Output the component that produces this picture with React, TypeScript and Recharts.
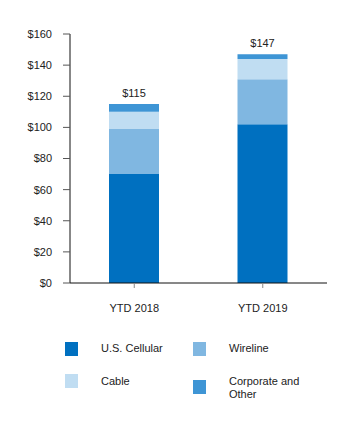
import { BarChart, Bar, XAxis, YAxis, LabelList } from 'recharts';

const categories = ['YTD 2018', 'YTD 2019'];
const usCellular = [70, 102];
const wireline = [29, 29];
const cable = [11, 13];
const corporate = [5, 3];
const totals = [115, 147];
const yTicks = [0, 20, 40, 60, 80, 100, 120, 140, 160];

const seriesInfo = [
  { key: 'cellular', name: 'U.S. Cellular', color: '#0070c0' },
  { key: 'wireline', name: 'Wireline', color: '#80b7e1' },
  { key: 'cable', name: 'Cable', color: '#c0ddf2' },
  { key: 'corporate', name: 'Corporate and Other', color: '#3e95d5' },
];

const data = categories.map((c, i) => ({
  name: c,
  cellular: usCellular[i],
  wireline: wireline[i],
  cable: cable[i],
  corporate: corporate[i],
  total: totals[i],
}));

const font = 'Arial, "Liberation Sans", Helvetica, sans-serif';

// legend laid out as in the source: 2 columns, last label wraps
const legendSpots = [
  { left: 65, top: 342, textTop: 342 },
  { left: 193, top: 342, textTop: 342 },
  { left: 65, top: 374, textTop: 375 },
  { left: 193, top: 380, textTop: 375 },
];

function ChartLegend() {
  return (
    <div style={{ position: 'absolute', left: 0, top: 0, fontFamily: font, fontSize: 11, color: '#222' }}>
      {seriesInfo.map((s, i) => {
        const spot = legendSpots[i];
        return (
          <div key={s.key}>
            <div
              style={{
                position: 'absolute',
                left: spot.left,
                top: spot.top,
                width: 13,
                height: 14,
                background: s.color,
              }}
            />
            <div
              style={{
                position: 'absolute',
                left: spot.left + 36,
                top: spot.textTop,
                width: 90,
                lineHeight: '13px',
              }}
            >
              {s.name === 'Corporate and Other' ? (
                <>
                  Corporate and
                  <br />
                  Other
                </>
              ) : (
                s.name
              )}
            </div>
          </div>
        );
      })}
    </div>
  );
}

const renderTotal = (props: any) => {
  const { x, y, width, index } = props;
  return (
    <text
      x={x + width / 2}
      y={y - 10}
      textAnchor="middle"
      dominantBaseline="middle"
      fontSize={11}
      fontFamily={font}
      fill="#222"
    >
      ${totals[index]}
    </text>
  );
};

export default function App() {
  return (
    <div style={{ position: 'absolute', left: 0, top: 0, width: 360, height: 429, background: '#fff' }}>
      <BarChart
        width={360}
        height={429}
        data={data}
        margin={{ top: 34, right: 33, left: 0, bottom: 116 }}
      >
        <XAxis
          dataKey="name"
          stroke="#111"
          tickSize={5}
          tickMargin={16}
          tickLine={{ stroke: '#888' }}
          tick={{ fontSize: 11, fontFamily: font, fill: '#222' }}
          height={30}
        />
        <YAxis
          domain={[0, 160]}
          ticks={yTicks}
          width={70}
          stroke="#111"
          tickSize={7}
          tickMargin={11}
          tickLine={{ stroke: '#555' }}
          tickFormatter={(v) => `$${v}`}
          tick={{ fontSize: 11, fontFamily: font, fill: '#222' }}
          interval={0}
        />
        {seriesInfo.map((s, i) => (
          <Bar
            key={s.key}
            dataKey={s.key}
            name={s.name}
            stackId="a"
            fill={s.color}
            barSize={50}
            isAnimationActive={false}
          >
            {i === seriesInfo.length - 1 && <LabelList dataKey="total" content={renderTotal} />}
          </Bar>
        ))}
      </BarChart>
      <ChartLegend />
    </div>
  );
}
